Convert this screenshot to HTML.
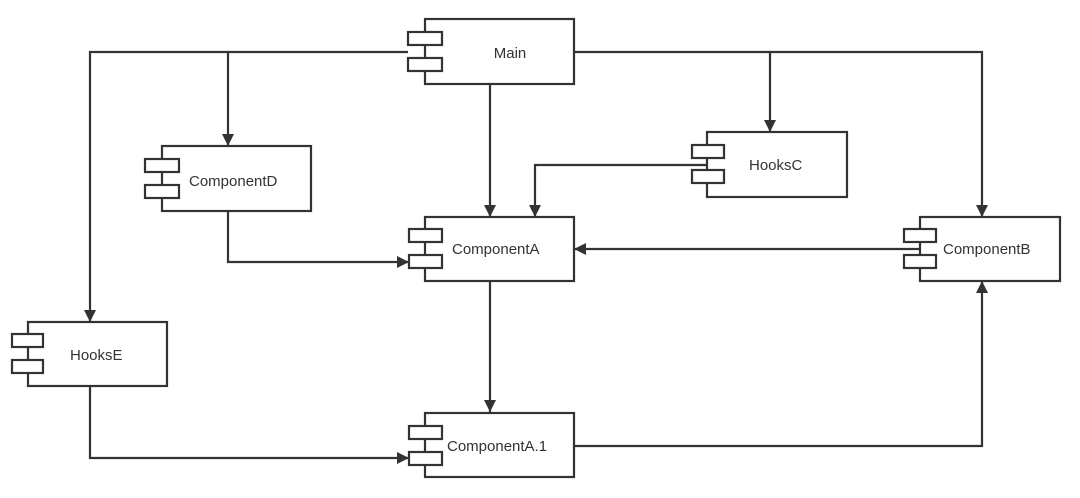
<!DOCTYPE html>
<html><head><meta charset="utf-8"><style>
html,body{margin:0;padding:0;background:#fff;}
svg{display:block;}
text{font-family:"Liberation Sans",sans-serif;font-size:15px;fill:#333;}
</style></head><body>
<svg width="1080" height="498" viewBox="0 0 1080 498" xmlns="http://www.w3.org/2000/svg">
<defs>
<marker id="b" markerWidth="12" markerHeight="14" refX="14" refY="7" orient="auto" markerUnits="userSpaceOnUse" viewBox="0 0 14 14">
<path d="M0,0 L14,7 L0,14 z" fill="#333"/>
</marker>
</defs>
<g fill="none" stroke="#333" stroke-width="2.2">
<polyline points="408,52 90,52 90,322" marker-end="url(#b)"/>
<polyline points="228,52 228,146" marker-end="url(#b)"/>
<polyline points="574,52 982,52 982,217" marker-end="url(#b)"/>
<polyline points="770,52 770,132" marker-end="url(#b)"/>
<polyline points="490,84 490,217" marker-end="url(#b)"/>
<polyline points="707,165 535,165 535,217" marker-end="url(#b)"/>
<polyline points="228,211 228,262 409,262" marker-end="url(#b)"/>
<polyline points="920,249 574,249" marker-end="url(#b)"/>
<polyline points="490,281 490,412" marker-end="url(#b)"/>
<polyline points="90,386 90,458 409,458" marker-end="url(#b)"/>
<polyline points="574,446 982,446 982,281" marker-end="url(#b)"/>
</g>
<g fill="#fff" stroke="#333" stroke-width="2.2">
<rect x="425" y="19" width="149" height="65"/>
<rect x="408" y="32" width="34" height="13"/><rect x="408" y="58" width="34" height="13"/>
<rect x="162" y="146" width="149" height="65"/>
<rect x="145" y="159" width="34" height="13"/><rect x="145" y="185" width="34" height="13"/>
<rect x="707" y="132" width="140" height="65"/>
<rect x="692" y="145" width="32" height="13"/><rect x="692" y="170" width="32" height="13"/>
<rect x="425" y="217" width="149" height="64"/>
<rect x="409" y="229" width="33" height="13"/><rect x="409" y="255" width="33" height="13"/>
<rect x="920" y="217" width="140" height="64"/>
<rect x="904" y="229" width="32" height="13"/><rect x="904" y="255" width="32" height="13"/>
<rect x="28" y="322" width="139" height="64"/>
<rect x="12" y="334" width="31" height="13"/><rect x="12" y="360" width="31" height="13"/>
<rect x="425" y="413" width="149" height="64"/>
<rect x="409" y="426" width="33" height="13"/><rect x="409" y="452" width="33" height="13"/>
</g>
<text x="510" y="58" text-anchor="middle">Main</text>
<text x="189" y="186">ComponentD</text>
<text x="749" y="170">HooksC</text>
<text x="452" y="254">ComponentA</text>
<text x="943" y="254">ComponentB</text>
<text x="70" y="360">HooksE</text>
<text x="447" y="451">ComponentA.1</text>
</svg>
</body></html>
